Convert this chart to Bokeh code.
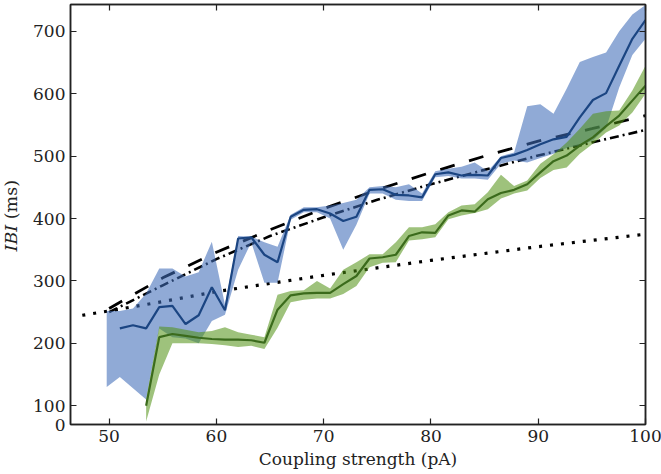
from bokeh.plotting import figure
from bokeh.models import Range1d, LinearAxis, FixedTicker, Div
from bokeh.layouts import row
from bokeh.embed import file_html
from bokeh.resources import INLINE

# ---------------- data ----------------
coupling = [51.0, 52.225, 53.45, 54.675, 55.9, 57.125, 58.35, 59.575, 60.8, 62.025,
            63.25, 64.475, 65.7, 66.925, 68.15, 69.375, 70.6, 71.825, 73.05, 74.275,
            75.5, 76.725, 77.95, 79.175, 80.4, 81.625, 82.85, 84.075, 85.3, 86.525,
            87.75, 88.975, 90.2, 91.425, 92.65, 93.875, 95.1, 96.325, 97.55, 98.775, 100.0]

# blue (simulation 1): mean and band
blue_mean = [224, 229, 224, 258, 260, 231, 245, 290, 253, 368,
             370, 342, 330, 403, 414, 415, 408, 396, 403, 446,
             447, 438, 437, 434, 471, 474, 469, 470, 469, 497,
             502, 510, 519, 527, 531, 562, 590, 601, 645, 688, 718]
blue_band_x = [49.775] + coupling
blue_upper = [252, 252, 256, 280, 320, 320, 307, 314, 363, 262, 372,
              371, 362, 355, 406, 418, 418, 421, 425, 430, 450,
              452, 450, 455, 440, 476, 480, 483, 490, 476, 500,
              506, 580, 583, 568, 608, 651, 659, 666, 700, 727, 742]
blue_lower = [130, 146, 128, 110, 224, 210, 208, 200, 236, 246, 318,
              362, 297, 297, 398, 410, 410, 400, 350, 390, 440,
              440, 430, 428, 428, 466, 468, 464, 464, 462, 488,
              493, 490, 497, 504, 513, 517, 525, 545, 610, 662, 688]

# green (simulation 2): starts at the third coupling value
green_x = coupling[2:]
green_mean = [100, 210, 215, 212, 209, 207, 206, 206, 205, 201,
              254, 277, 280, 281, 281, 295, 308, 336, 338, 342,
              372, 378, 377, 405, 413, 411, 431, 441, 446, 455,
              474, 492, 501, 517, 530, 548, 565, 589, 613]
green_upper = [110, 227, 226, 222, 218, 220, 226, 218, 214, 210,
               278, 284, 285, 300, 288, 318, 330, 343, 343, 362,
               386, 386, 391, 410, 421, 423, 442, 470, 452, 461,
               488, 503, 522, 544, 568, 572, 573, 605, 645]
green_lower = [75, 150, 200, 200, 200, 199, 197, 194, 196, 191,
               225, 266, 270, 272, 272, 279, 292, 322, 329, 330,
               365, 367, 370, 399, 405, 409, 415, 432, 440, 445,
               465, 478, 482, 504, 520, 538, 549, 570, 600]

# theoretical curves
theory_x = [50, 55, 60, 65, 70, 75, 80, 85, 90, 95, 100]
dashed_y = [256, 305, 346, 382, 416, 446, 474, 500, 524, 544, 565]
dashdot_y = [250, 293, 335, 372, 402, 430, 455, 478, 501, 522, 542]
dotted_x = [47.5, 50, 55, 60, 65, 70, 75, 80, 85, 90, 95, 100]
dotted_y = [245, 252, 267, 283, 296, 309, 321, 333, 344, 355, 365, 375]

x_ticks = [50, 60, 70, 80, 90, 100]
y_ticks = [70, 100, 200, 300, 400, 500, 600, 700]
y_tick_labels = ["0", "100", "200", "300", "400", "500", "600", "700"]

# ---------------- styles ----------------
FONT = "DejaVu Serif"
FS = "17px"
INK = "#222222"
BLUE_FILL = "#3f6db8"
BLUE_LINE = "#1b4582"
GREEN_FILL = "#4f8f10"
GREEN_LINE = "#3b6b1c"

p = figure(width=631, height=474, frame_width=575, frame_height=420,
           output_backend="svg", toolbar_location=None,
           x_range=Range1d(46.4, 100), y_range=Range1d(70, 743),
           min_border_left=37, min_border_right=19, min_border_top=4, min_border_bottom=40)
p.margin = 0
p.background_fill_color = "white"
p.border_fill_color = "white"
p.outline_line_color = INK
p.outline_line_width = 1.5
p.grid.visible = False

# black reference curves (beneath the bands)
p.line(theory_x, dashed_y, line_color="black", line_width=2.8, line_dash="15 15")
p.line(theory_x, dashdot_y, line_color="black", line_width=2.6, line_dash="9 4 2 4")
p.line(dotted_x, dotted_y, line_color="black", line_width=3.2, line_dash="3 8")

# bands
p.varea(x=blue_band_x, y1=blue_lower, y2=blue_upper, fill_color=BLUE_FILL, fill_alpha=0.58)
p.varea(x=green_x, y1=green_lower, y2=green_upper, fill_color=GREEN_FILL, fill_alpha=0.55)

# mean lines
p.line(coupling, blue_mean, line_color=BLUE_LINE, line_width=2.2)
p.line(green_x, green_mean, line_color=GREEN_LINE, line_width=2.2)

# axes
def style_axis(ax, ticks, show_labels):
    ax.ticker = FixedTicker(ticks=ticks)
    ax.axis_line_color = INK
    ax.axis_line_width = 1.5
    ax.major_tick_in = 6
    ax.major_tick_out = 0
    ax.minor_tick_in = 0
    ax.minor_tick_out = 0
    ax.major_tick_line_color = INK
    ax.major_tick_line_width = 1.2
    ax.major_label_text_font = FONT
    ax.major_label_text_font_size = FS
    ax.major_label_text_color = INK
    if show_labels:
        ax.major_label_standoff = 5
    else:
        ax.major_label_overrides = {t: "" for t in ticks}
        ax.major_label_standoff = 0

style_axis(p.xaxis[0], x_ticks, True)
style_axis(p.yaxis[0], y_ticks, True)
p.yaxis[0].major_label_overrides = {t: s for t, s in zip(y_ticks, y_tick_labels)}
p.xaxis.axis_label = "Coupling strength (pA)"
p.xaxis.axis_label_text_font = FONT
p.xaxis.axis_label_text_font_size = FS
p.xaxis.axis_label_text_font_style = "normal"
p.xaxis.axis_label_text_color = INK
p.xaxis.axis_label_standoff = 4

top = LinearAxis()
right = LinearAxis()
style_axis(top, x_ticks, False)
style_axis(right, y_ticks, False)
p.add_layout(top, "above")
p.add_layout(right, "right")

# y axis title: italic "IBI" followed by "(ms)", drawn as rotated HTML text
ylab = Div(width=30, height=474, margin=0,
           text=('<div style="writing-mode:vertical-rl;transform:rotate(180deg);'
                 'margin-top:180px;margin-left:1px;line-height:20px;'
                 'font-family:\'DejaVu Serif\';font-size:17.5px;color:#222222;'
                 'white-space:nowrap;"><i>IBI</i> (ms)</div>'))

layout = row(ylab, p, spacing=0, margin=0)
open("out.html", "w").write(file_html(layout, INLINE))
